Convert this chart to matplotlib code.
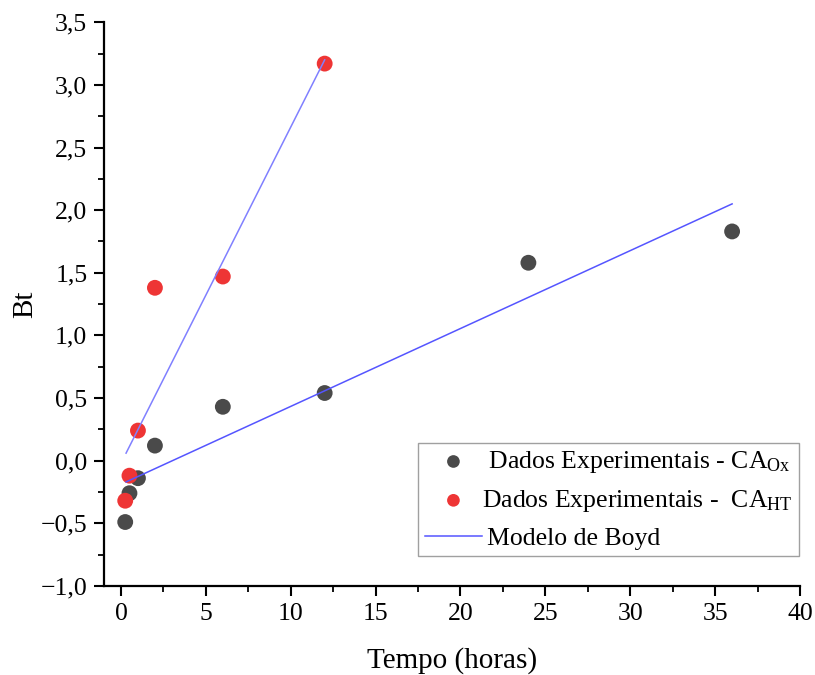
import matplotlib
matplotlib.use("Agg")
import matplotlib.pyplot as plt
from matplotlib.ticker import MultipleLocator, FuncFormatter

plt.rcParams['font.family'] = ['Liberation Serif', 'DejaVu Serif']
plt.rcParams['mathtext.fontset'] = 'custom'
plt.rcParams['mathtext.rm'] = 'Liberation Serif'
plt.rcParams['mathtext.it'] = 'Liberation Serif:italic'

# Data
tempo_ox = [0.25, 0.5, 1, 2, 6, 12, 24, 36]
bt_ox = [-0.49, -0.26, -0.14, 0.12, 0.43, 0.54, 1.58, 1.83]

tempo_ht = [0.25, 0.5, 1, 2, 6, 12]
bt_ht = [-0.32, -0.12, 0.24, 1.38, 1.47, 3.17]

boyd_ox_x = [0.3, 36]
boyd_ox_y = [-0.17, 2.05]
boyd_ht_x = [0.3, 12]
boyd_ht_y = [0.06, 3.20]

xticks = [0, 5, 10, 15, 20, 25, 30, 35, 40]
yticks = [-1.0, -0.5, 0.0, 0.5, 1.0, 1.5, 2.0, 2.5, 3.0, 3.5]

fig = plt.figure(figsize=(8.15, 6.75), dpi=100)
ax = fig.add_axes([0.1276, 0.132, 0.854, 0.835])

ax.scatter(tempo_ox, bt_ox, s=130, color='#4a4a4a', edgecolors='none', zorder=3,
           label=' Dados Experimentais - CA$_{\\mathrm{Ox}}$')
ax.scatter(tempo_ht, bt_ht, s=130, color='#ee3535', edgecolors='none', zorder=3,
           label='Dados Experimentais -  CA$_{\\mathrm{HT}}$')
ax.plot(boyd_ox_x, boyd_ox_y, color='#5555ff', lw=1.1, zorder=4, label='\u2009Modelo de Boyd')
ax.plot(boyd_ht_x, boyd_ht_y, color='#8080ff', lw=1.1, zorder=4)

ax.set_xlim(-1, 40)
ax.set_ylim(-1.0, 3.5)
ax.set_xticks(xticks)
ax.set_yticks(yticks)
ax.xaxis.set_minor_locator(MultipleLocator(2.5))
ax.yaxis.set_minor_locator(MultipleLocator(0.25))
ax.yaxis.set_major_formatter(FuncFormatter(lambda v, p: ('%.1f' % v).replace('.', ',').replace('-', '\u2212')))

for s in ['top', 'right']:
    ax.spines[s].set_visible(False)
for s in ['left', 'bottom']:
    ax.spines[s].set_linewidth(1.6)

ax.tick_params(which='major', direction='out', length=7, width=1.5, labelsize=18.5, pad=5)
ax.tick_params(which='minor', direction='out', length=4, width=1.3)

ax.set_xlabel('Tempo (horas)', fontsize=21, labelpad=16)
ax.set_ylabel('Bt', fontsize=21, labelpad=2)

leg = ax.legend(loc='upper left', bbox_to_anchor=(0.513, 0.344), bbox_transform=fig.transFigure,
                fontsize=18.5, frameon=True, fancybox=False, edgecolor='#888888',
                handlelength=2.25, handletextpad=0.0, borderpad=0.25, labelspacing=0.5,
                markerscale=0.8, borderaxespad=0)
leg.get_frame().set_linewidth(1.0)

fig.savefig('out.png', dpi=100)
